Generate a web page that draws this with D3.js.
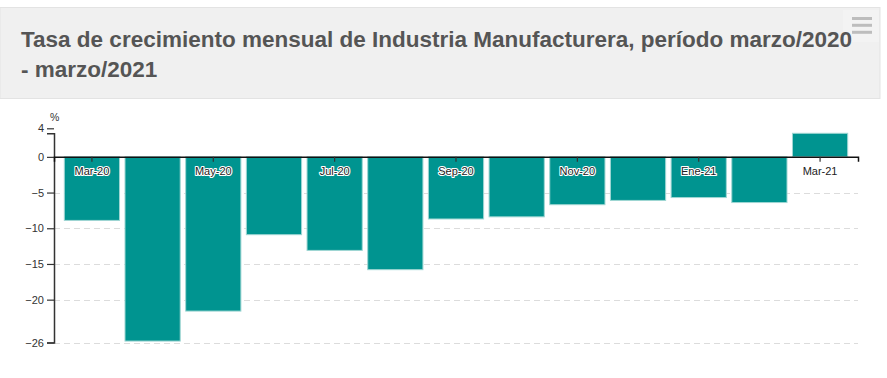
<!DOCTYPE html>
<html>
<head>
<meta charset="utf-8">
<script src="https://cdn.jsdelivr.net/npm/d3@7"></script>
<style>
  html, body { margin: 0; padding: 0; background: #fff; }
  svg { display: block; font-family: "Liberation Sans", Arial, sans-serif; }
</style>
</head>
<body>
<svg id="chart" width="887" height="378"></svg>
<script>
// Data: monthly growth rate, manufacturing industry (%)
const months = ['Mar-20', 'Abr-20', 'May-20', 'Jun-20', 'Jul-20', 'Ago-20', 'Sep-20',
                'Oct-20', 'Nov-20', 'Dic-20', 'Ene-21', 'Feb-21', 'Mar-21'];
const values = [-8.9, -25.8, -21.6, -10.9, -13.1, -15.8, -8.7, -8.4, -6.7, -6.1, -5.7, -6.4, 3.3];
const yTicks = [4, 0, -5, -10, -15, -20, -26];
const gridTicks = [-5, -10, -15, -20, -26];
const titleLines = ['Tasa de crecimiento mensual de Industria Manufacturera, período marzo/2020',
                    '- marzo/2021'];

const svg = d3.select('#chart');
const plot = { left: 54, right: 858, top: 133.3, bottom: 342.5 };
const barColor = '#009490';

// Header band
svg.append('rect').attr('x', 0).attr('y', 7.5).attr('width', 880).attr('height', 91)
    .attr('fill', '#f0f0f0').attr('stroke', '#e3e3e3').attr('stroke-width', 1);
svg.append('rect').attr('x', 843).attr('y', 10).attr('width', 36).attr('height', 32)
    .attr('fill', '#f3f3f3');
[18.5, 25.3, 32.3].forEach(y => {
    svg.append('line').attr('x1', 852).attr('x2', 872).attr('y1', y).attr('y2', y)
        .attr('stroke', '#bdbdbd').attr('stroke-width', 3);
});
titleLines.forEach((t, i) => {
    svg.append('text').attr('x', 21).attr('y', 47 + i * 29.5)
        .attr('font-size', 22.5).attr('font-weight', 700).attr('fill', '#555')
        .text(t);
});

// Scales
const x = d3.scaleBand().domain(months).range([plot.left, plot.right])
    .paddingInner(0.09).paddingOuter(0.17);
const y = d3.scaleLinear().domain([-26, d3.max(values)]).range([plot.bottom, plot.top]);

const g = svg.append('g');

// Gridlines
g.selectAll('line.grid').data(gridTicks).join('line')
    .attr('x1', plot.left).attr('x2', plot.right)
    .attr('y1', d => Math.round(y(d)) + 0.5).attr('y2', d => Math.round(y(d)) + 0.5)
    .attr('stroke', '#dcdcdc').attr('stroke-width', 1).attr('stroke-dasharray', '6,4');

// Bars
g.selectAll('rect.bar').data(values).join('rect')
    .attr('x', (d, i) => x(months[i]))
    .attr('y', d => y(Math.max(0, d)))
    .attr('width', x.bandwidth())
    .attr('height', d => Math.abs(y(d) - y(0)))
    .attr('fill', barColor).attr('stroke', '#9fd6d3').attr('stroke-width', 1);

// Y axis
const yAxis = g.append('g').attr('transform', `translate(${plot.left},0)`)
    .call(d3.axisLeft(y).tickValues(yTicks).tickSize(7).tickSizeOuter(7).tickPadding(3)
        .tickFormat(d3.format('d')));
yAxis.select('.domain').attr('stroke', '#333').attr('stroke-width', 1.5);
yAxis.selectAll('.tick line').attr('stroke', '#333').attr('stroke-width', 1.2);
yAxis.selectAll('.tick text').attr('font-size', 11).attr('fill', '#333')
    .attr('font-family', '"Liberation Sans", Arial, sans-serif');
g.append('text').attr('x', 50).attr('y', 121).attr('font-size', 10.5).attr('fill', '#333').text('%');

// X axis at zero
const shown = months.filter((m, i) => i % 2 === 0);
const xAxis = g.append('g').attr('transform', `translate(0,${y(0)})`)
    .call(d3.axisBottom(x).tickValues(shown).tickSize(5).tickSizeOuter(5).tickFormat(''));
xAxis.select('.domain').attr('stroke', '#111').attr('stroke-width', 1.5);
xAxis.selectAll('.tick line').attr('stroke', '#333').attr('stroke-width', 1.2);

// Month labels with white halo
g.selectAll('text.mlab').data(shown).join('text')
    .attr('x', d => x(d) + x.bandwidth() / 2)
    .attr('y', y(0) + 18.5)
    .attr('text-anchor', 'middle').attr('font-size', 11).attr('fill', '#222')
    .attr('stroke', '#fff').attr('stroke-width', 2.2).attr('paint-order', 'stroke')
    .attr('stroke-linejoin', 'round')
    .text(d => d);
</script>
</body>
</html>
